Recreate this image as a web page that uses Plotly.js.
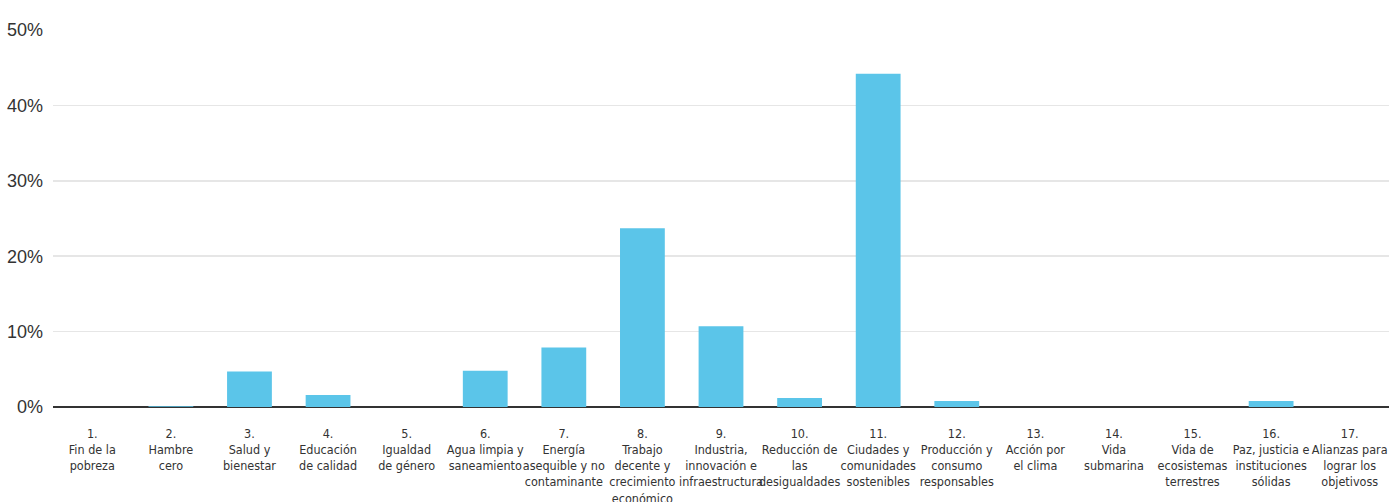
<!DOCTYPE html>
<html>
<head>
<meta charset="utf-8">
<script src="https://cdn.plot.ly/plotly-3.0.1.min.js"></script>
<style>
html,body{margin:0;padding:0;background:#fff;}
#chart{width:1389px;height:502px;}
.xtick text{font-stretch:condensed;}
</style>
</head>
<body>
<div id="chart"></div>
<script>
const categories = ["1","2","3","4","5","6","7","8","9","10","11","12","13","14","15","16","17"];
const tickLabels = [
  "1.<br>Fin de la<br>pobreza",
  "2.<br>Hambre<br>cero",
  "3.<br>Salud y<br>bienestar",
  "4.<br>Educación<br>de calidad",
  "5.<br>Igualdad<br>de género",
  "6.<br>Agua limpia y<br>saneamiento",
  "7.<br>Energía<br>asequible y no<br>contaminante",
  "8.<br>Trabajo<br>decente y<br>crecimiento<br>económico",
  "9.<br>Industria,<br>innovación e<br>infraestructura",
  "10.<br>Reducción de<br>las<br>desigualdades",
  "11.<br>Ciudades y<br>comunidades<br>sostenibles",
  "12.<br>Producción y<br>consumo<br>responsables",
  "13.<br>Acción por<br>el clima",
  "14.<br>Vida<br>submarina",
  "15.<br>Vida de<br>ecosistemas<br>terrestres",
  "16.<br>Paz, justicia e<br>instituciones<br>sólidas",
  "17.<br>Alianzas para<br>lograr los<br>objetivoss"
];
const values = [0, 0.1, 4.7, 1.6, 0, 4.8, 7.9, 23.7, 10.7, 1.2, 44.2, 0.8, 0, 0, 0, 0.8, 0];
const yTickVals = [0, 10, 20, 30, 40, 50];
const yTickText = ["0%", "10%", "20%", "30%", "40%", "50%"];

const trace = {
  type: "bar",
  x: categories,
  y: values,
  marker: {color: "#5bc5e9"},
  hoverinfo: "none"
};

const layout = {
  width: 1389,
  height: 502,
  margin: {l: 53, r: 0, t: 30, b: 95},
  paper_bgcolor: "#fff",
  plot_bgcolor: "#fff",
  bargap: 0.43,
  showlegend: false,
  xaxis: {
    type: "category",
    tickvals: categories,
    ticktext: tickLabels,
    tickangle: 0,
    ticks: "",
    showgrid: false,
    showline: false,
    zeroline: false,
    ticklabelstandoff: 17,
    tickfont: {family: "DejaVu Sans Condensed, DejaVu Sans, sans-serif", size: 12.5, color: "#333"},
    fixedrange: true
  },
  yaxis: {
    range: [0, 50],
    tickvals: yTickVals,
    ticktext: yTickText,
    ticks: "",
    showgrid: true,
    gridcolor: "#e6e6e6",
    gridwidth: 1.5,
    zeroline: true,
    zerolinecolor: "#333",
    zerolinewidth: 2.5,
    showline: false,
    ticklabelstandoff: 9,
    tickfont: {family: "Liberation Sans, Arial, sans-serif", size: 18, color: "#333"},
    fixedrange: true
  }
};

Plotly.newPlot("chart", [trace], layout, {displayModeBar: false, staticPlot: true});
</script>
</body>
</html>
